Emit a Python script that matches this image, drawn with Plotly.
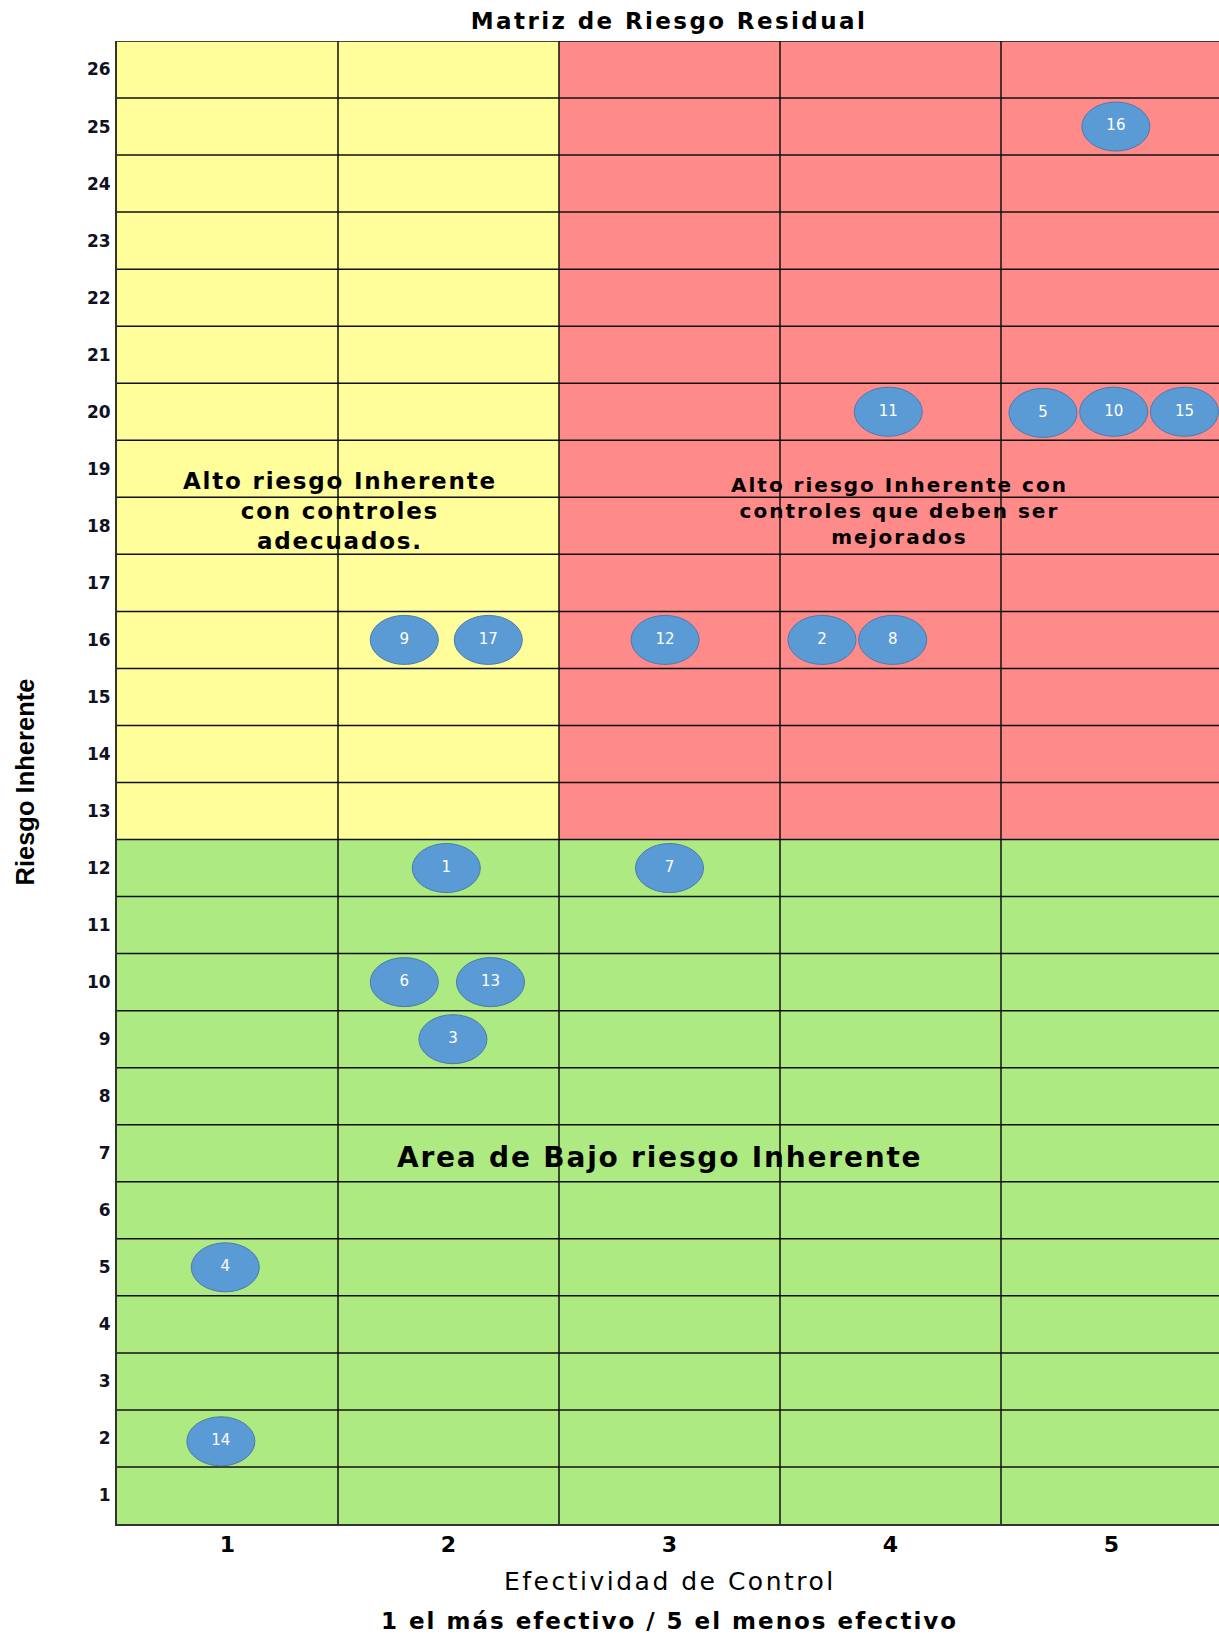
import plotly.graph_objects as go

# ---------------- data ----------------
x_levels = [1, 2, 3, 4, 5]
y_levels = list(range(1, 27))

bubble_ids = [16, 11, 5, 10, 15, 9, 17, 12, 2, 8, 1, 7, 6, 13, 3, 4, 14]
bubble_x = [5.02, 3.99, 4.69, 5.01, 5.33, 1.80, 2.18, 2.98, 3.69, 4.01,
            1.99, 3.00, 1.80, 2.19, 2.02, 0.99, 0.97]
bubble_y = [25, 20, 19.98, 20, 20, 16, 16, 16, 16, 16,
            12, 12, 10, 10, 9, 5, 1.95]

zone_names = ["alto_ok", "alto_mejorar", "bajo"]
zone_x = [(0.5, 2.5), (2.5, 5.5), (0.5, 5.5)]
zone_y = [(12.5, 26.5), (12.5, 26.5), (0.5, 12.5)]
zone_colors = ["#FFFE9A", "#FF8A8A", "#AEEA82"]

zone_text = ["Alto riesgo Inherente<br>con controles<br>adecuados.",
             "Alto riesgo Inherente con<br>controles que deben ser<br>mejorados",
             "Area de Bajo riesgo Inherente"]
zone_text_x = [1.51, 4.04, 2.955]
zone_text_y = [18.26, 18.26, 6.93]

title_text = "Matriz de Riesgo Residual"
x_title = "Efectividad de Control"
x_subtitle = "1 el más efectivo / 5 el menos efectivo"
y_title = "Riesgo Inherente"

FONT = "DejaVu Sans, Verdana, sans-serif"


def spaced(text, px):
    return "<br>".join(f'<span style="letter-spacing:{px}px">{ln}</span>'
                       for ln in text.split("<br>"))


fig = go.Figure()

shapes = []
# colored zones
for (x0, x1), (y0, y1), c in zip(zone_x, zone_y, zone_colors):
    shapes.append(dict(type="rect", xref="x", yref="y", x0=x0, x1=x1, y0=y0, y1=y1,
                       fillcolor=c, line=dict(width=0), layer="below"))
# grid lines
for xv in x_levels[:-1]:
    shapes.append(dict(type="line", xref="x", yref="y", x0=xv + 0.5, x1=xv + 0.5,
                       y0=0.5, y1=26.5, line=dict(color="#111111", width=1.5),
                       layer="between"))
for yv in y_levels:
    shapes.append(dict(type="line", xref="x", yref="y", x0=0.5, x1=5.5,
                       y0=yv + 0.5, y1=yv + 0.5, line=dict(color="#111111", width=1.5),
                       layer="between"))
# bubbles (ellipses in data coordinates)
hw, hh = 0.154, 0.43
for bx, by in zip(bubble_x, bubble_y):
    shapes.append(dict(type="circle", xref="x", yref="y",
                       x0=bx - hw, x1=bx + hw, y0=by - hh, y1=by + hh,
                       fillcolor="#5B9BD5", line=dict(color="#4A7AAE", width=1),
                       layer="between"))

fig.add_trace(go.Scatter(
    x=bubble_x, y=bubble_y, mode="text",
    text=[str(i) for i in bubble_ids],
    textfont=dict(family=FONT, size=15, color="white"),
    textposition="middle center", hoverinfo="skip", showlegend=False))

annotations = []
sizes = [23, 20, 28]
spacing = [1.8, 2.0, 1.8]
for t, tx, ty, s, sp in zip(zone_text, zone_text_x, zone_text_y, sizes, spacing):
    annotations.append(dict(xref="x", yref="y", x=tx, y=ty, text=spaced(t, sp),
                            showarrow=False, xanchor="center", yanchor="middle",
                            font=dict(family=FONT, size=s, color="#000000", weight="bold")))

annotations.append(dict(xref="paper", yref="paper", x=(670 - 117) / 1102, y=-57 / 1483,
                        text=spaced(x_title, 2.5), showarrow=False,
                        xanchor="center", yanchor="middle",
                        font=dict(family=FONT, size=25, color="#000000")))
annotations.append(dict(xref="paper", yref="paper", x=(642 * 1.0428 - 117) / 1102, y=-97 / 1483,
                        text=spaced(x_subtitle, 2.0), showarrow=False,
                        xanchor="center", yanchor="middle",
                        font=dict(family=FONT, size=23, color="#000000", weight="bold")))
annotations.append(dict(xref="paper", yref="paper", x=(24 - 117) / 1102, y=0.5,
                        text=y_title, showarrow=False, textangle=-90,
                        xanchor="center", yanchor="middle",
                        font=dict(family="Liberation Sans, Arial, sans-serif",
                                  size=25.5, color="#000000", weight="bold")))

fig.update_layout(
    width=1219, height=1635,
    margin=dict(l=117, r=0, t=41, b=111),
    paper_bgcolor="white", plot_bgcolor="white",
    title=dict(text=spaced(title_text, 2.4), x=669 / 1219, xref="container",
               xanchor="center", y=1 - 21 / 1635, yref="container", yanchor="middle",
               font=dict(family=FONT, size=23, color="#000000", weight="bold")),
    shapes=shapes, annotations=annotations, showlegend=False,
    xaxis=dict(range=[0.5, 0.5 + 1102 / 221], tickvals=x_levels,
               ticktext=[str(v) for v in x_levels], showgrid=False, zeroline=False,
               showline=True, linecolor="#333333", linewidth=2,
               ticks="", ticklabelstandoff=0,
               tickfont=dict(family=FONT, size=22, color="#000000", weight="bold"),
               fixedrange=True),
    yaxis=dict(range=[0.5, 26.5], tickvals=y_levels,
               ticktext=[str(v) for v in y_levels], showgrid=False, zeroline=False,
               showline=True, linecolor="#333333", linewidth=2,
               ticks="", ticklabelstandoff=1,
               tickfont=dict(family=FONT, size=17, color="#111122", weight="bold"),
               fixedrange=True),
)

fig.write_html("out.html")
